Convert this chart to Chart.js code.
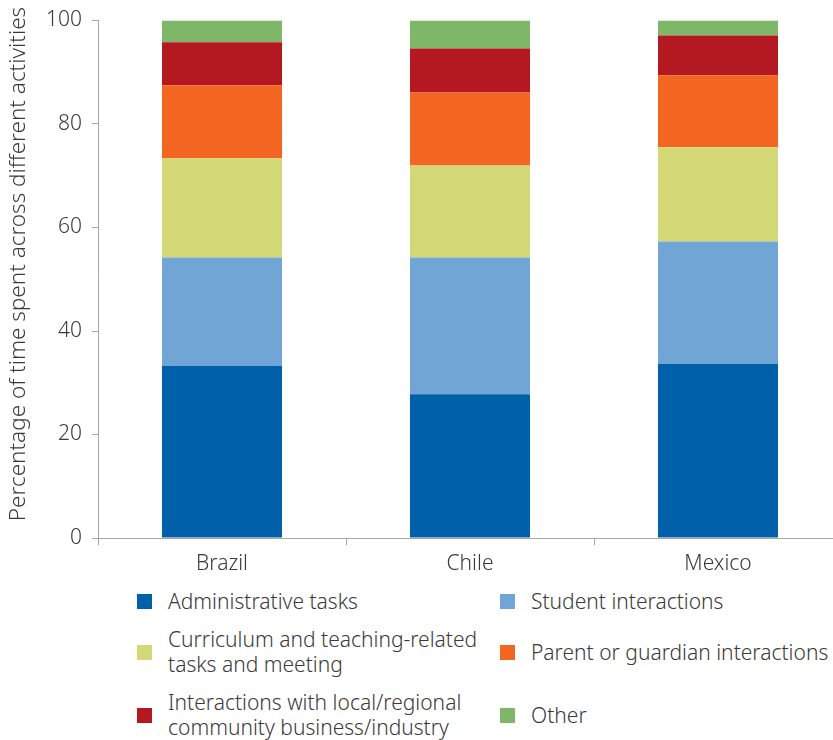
<!DOCTYPE html>
<html><head><meta charset="utf-8">
<script src="https://cdn.jsdelivr.net/npm/chart.js@4"></script>
<style>
html,body{margin:0;padding:0;overflow:hidden;background:#fff;width:833px;height:740px;}
#wrap{position:absolute;left:0;top:0;width:842px;height:580px;}
#legend{position:absolute;left:137px;top:589px;display:grid;grid-template-columns:363px 340px;row-gap:13px;font-family:'Noto Sans',sans-serif;font-weight:300;font-size:21px;color:#3a3a3a;line-height:25px;}
.item{display:flex;align-items:center;}
.sw{width:15px;height:15px;margin-right:16px;flex:none;}
.txt{white-space:pre;}
</style></head>
<body>
<div id="wrap"><canvas id="c"></canvas></div>
<div id="legend"></div>
<script>
const categories = ['Brazil', 'Chile', 'Mexico'];
const seriesLabels = [
  'Administrative tasks',
  'Student interactions',
  'Curriculum and teaching-related\ntasks and meeting',
  'Parent or guardian interactions',
  'Interactions with local/regional\ncommunity business/industry',
  'Other'
];
const seriesColors = ['#0060a9', '#70a5d6', '#d3d775', '#f36622', '#b41821', '#7fb769'];
const administrative = [33.3, 27.8, 33.6];
const student = [20.9, 26.4, 23.7];
const curriculum = [19.2, 17.8, 18.2];
const parent = [14.1, 14.1, 13.9];
const community = [8.3, 8.5, 7.7];
const other = [4.2, 5.4, 2.9];
const yTicks = [0, 20, 40, 60, 80, 100];
const yTitle = 'Percentage of time spent across different activities';

const seriesValues = [administrative, student, curriculum, parent, community, other];
const axisColor = '#a6a6a6';
const textColor = '#3a3a3a';
const fontFamily = "'Noto Sans', sans-serif";

const datasets = seriesValues.map((vals, i) => ({
  label: seriesLabels[i].replace('\n', ' '),
  data: vals,
  backgroundColor: seriesColors[i],
  borderWidth: 0,
  categoryPercentage: 1,
  barPercentage: 0.484
}));

const yTitlePlugin = {
  id: 'yTitlePlugin',
  afterDraw(chart) {
    const ctx = chart.ctx;
    ctx.save();
    ctx.translate(19, 264);
    ctx.rotate(-Math.PI / 2);
    ctx.font = '300 22.5px ' + fontFamily;
    ctx.fillStyle = textColor;
    ctx.textAlign = 'center';
    ctx.textBaseline = 'middle';
    ctx.fillText(yTitle, 0, 0);
    ctx.restore();
  }
};

new Chart(document.getElementById('c'), {
  type: 'bar',
  data: { labels: categories, datasets },
  plugins: [yTitlePlugin],
  options: {
    responsive: true,
    maintainAspectRatio: false,
    animation: false,
    layout: { padding: { top: 20, right: 0, left: 0, bottom: 0 } },
    plugins: { legend: { display: false }, tooltip: { enabled: false } },
    scales: {
      x: {
        stacked: true,
        grid: { offset: true, drawOnChartArea: false, drawTicks: true, tickLength: 7, color: axisColor },
        border: { color: axisColor, width: 1 },
        ticks: { font: { family: fontFamily, size: 21, weight: 300, lineHeight: 1 }, color: textColor, padding: 9 },
        afterFit: s => { s.height = 42; }
      },
      y: {
        stacked: true,
        min: 0, max: 100,
        afterBuildTicks: s => { s.ticks = yTicks.map(v => ({ value: v })); },
        grid: { drawOnChartArea: false, drawTicks: true, tickLength: 6, color: axisColor },
        border: { color: axisColor, width: 1 },
        ticks: { font: { family: fontFamily, size: 21, weight: 300, lineHeight: 1 }, color: textColor, padding: 10 },
        title: { display: false, text: yTitle },
        afterFit: s => { s.width = 98; }
      }
    }
  }
});

const legend = document.getElementById('legend');
seriesLabels.forEach((lab, i) => {
  const item = document.createElement('div');
  item.className = 'item';
  const sw = document.createElement('span');
  sw.className = 'sw';
  sw.style.background = seriesColors[i];
  const t = document.createElement('span');
  t.className = 'txt';
  t.textContent = lab;
  item.appendChild(sw); item.appendChild(t);
  legend.appendChild(item);
});
</script>
</body></html>
